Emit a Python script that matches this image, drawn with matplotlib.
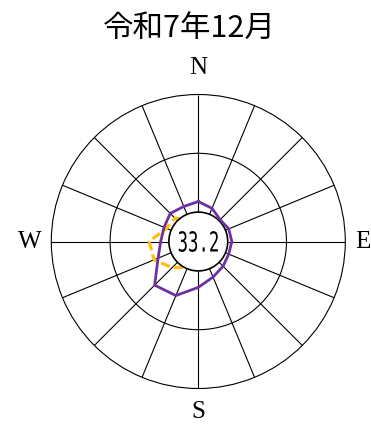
import matplotlib.pyplot as plt
import numpy as np
from matplotlib.textpath import TextPath
from matplotlib.patches import PathPatch
from matplotlib.font_manager import FontProperties
from matplotlib.transforms import Affine2D

# 16 directions, clockwise from north
directions = ['N', 'NNE', 'NE', 'ENE', 'E', 'ESE', 'SE', 'SSE',
              'S', 'SSW', 'SW', 'WSW', 'W', 'WNW', 'NW', 'NNW']
# radial values (calm circle sits at 10, rings at 30 and 50)
this_month = [13.6, 12.2, 10.5, 11.2, 11.4, 11.2, 11.9, 13.1,
              15.6, 19.9, 21.0, 14.8, 12.8, 12.6, 13.5, 12.9]
other_line = [6.0, 5.0, 5.0, 5.0, 5.0, 5.0, 5.0, 6.0,
              7.0, 9.5, 12.6, 16.3, 16.7, 11.7, 11.2, 8.0]
calm = 33.2
title = '令和7年12月'
compass = ['N', 'E', 'S', 'W']
compass_r = [59.4, 55.8, 57.7, 57.2]

calm_r = 10
rings = [30, 50]

theta = np.deg2rad(np.arange(16) * 22.5)
theta_c = np.append(theta, theta[0])

fig = plt.figure(figsize=(3.71, 4.31), dpi=100)
cx, cy = 198.3 / 371, 1 - 242.5 / 431
rx, ry = 147 / 371, 147 / 431
ax = fig.add_axes([cx - rx, cy - ry, 2 * rx, 2 * ry], projection='polar')
ax.set_theta_zero_location('N')
ax.set_theta_direction(-1)
ax.set_ylim(0, 50)
ax.grid(False)
ax.set_xticks([])
ax.set_yticks([])
ax.spines['polar'].set_linewidth(0.8)

# rings and spokes
full = np.linspace(0, 2 * np.pi, 361)
for r in rings[:-1]:
    ax.plot(full, np.full_like(full, r), color='black', lw=0.8, zorder=1)
ax.vlines(theta, calm_r, rings[-1], color='black', lw=0.8, zorder=1)

# second series (dashed, partly hidden by calm circle)
ax.plot(theta_c, np.append(other_line, other_line[0]), color='#FFC000',
        lw=2.2, dashes=(3, 1.4), zorder=2)

# calm circle
ax.fill(full, np.full_like(full, calm_r), facecolor='white',
        edgecolor='black', lw=1.2, zorder=3)

# this month
ax.plot(theta_c, np.append(this_month, this_month[0]), color='#7030A0',
        lw=2.0, zorder=4)

# calm value: narrow monospaced digits
tp = TextPath((0, 0), f'{calm}', size=0.275,
              prop=FontProperties(family='DejaVu Sans Mono'))
ext = tp.get_extents()
tx = (Affine2D().translate(-(ext.x0 + ext.x1) / 2, -(ext.y0 + ext.y1) / 2)
      .scale(0.63, 1).translate(cx * 3.71, cy * 4.31) + fig.dpi_scale_trans)
fig.add_artist(PathPatch(tp, transform=tx, facecolor='black', lw=0, zorder=5))

for lab, r, t in zip(compass, compass_r, np.deg2rad([0, 90, 180, 270])):
    ax.text(t, r, lab, ha='center', va='center', fontsize=18,
            family='Liberation Serif', clip_on=False)

fig.text(189 / 371, 1 - 28 / 431, title, ha='center', va='center',
         fontsize=22, family=['Noto Sans CJK JP', 'DejaVu Sans'])

fig.savefig('out.png', dpi=100)
